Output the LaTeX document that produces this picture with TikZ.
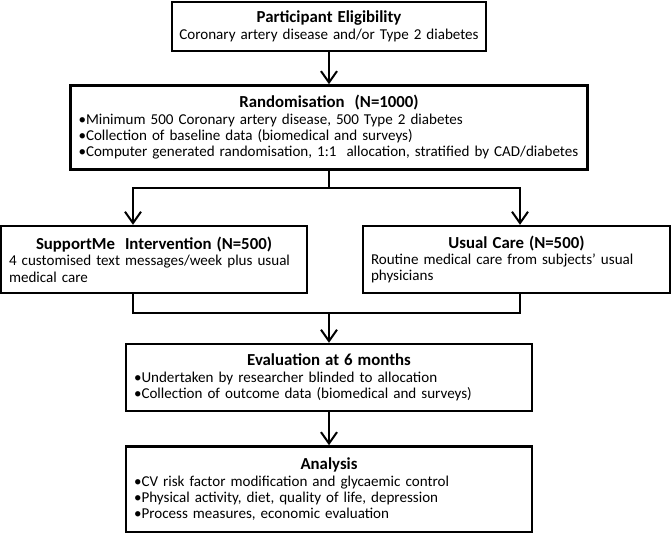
\documentclass[tikz,border=0pt]{standalone}
\usepackage{fontspec}
\setmainfont{Carlito}
\usetikzlibrary{positioning,arrows.meta}

\newcommand{\ttl}[1]{{\centering\fontsize{12.6}{15}\selectfont\bfseries #1\par}}

\begin{document}
\begin{tikzpicture}[x=0.75pt, y=-0.75pt, font=\fontsize{11.3}{12.3}\selectfont,
		box/.style 2 args={draw, line width=1.8pt, text width=#1, minimum height=#2, inner xsep=6pt, inner ysep=3pt, align=left},
		arr/.style={line width=1.5pt, -{Straight Barb[length=8.5pt, width=12pt]}},
		lnk/.style={line width=1.5pt}]
		\useasboundingbox (0,0) rectangle (671,532);
		\node[box={232pt}{36.75pt}, align=center, inner xsep=1.75pt] (elig) at (329,26.5) {\ttl{Participant\ Eligibility}Coronary artery disease and/or Type 2 diabetes};
		\node[box={375.75pt}{63pt}, below=24pt of elig] (rand) {\ttl{Randomisation\ \ (N=1000)}%
			•Minimum 500 Coronary artery disease, 500 Type 2 diabetes\\
			•Collection of baseline data (biomedical and surveys)\\
			•Computer generated randomisation, 1:1\ \ allocation, stratified by CAD/diabetes};
		\node[box={217.5pt}{50.25pt}] (left) at (154,259.5) {\ttl{SupportMe\ \ Intervention (N=500)}%
			4 customised text messages/week plus usual\\medical care};
		\node[box={218.25pt}{50.25pt}] (right) at (516.5,259.5) {\ttl{Usual Care (N=500)}%
			Routine medical care from subjects’ usual\\physicians};
		\node[box={292.5pt}{50.25pt}] (eval) at (329,377.5) {\ttl{Evaluation at 6 months}%
			•Undertaken by researcher blinded to allocation\\
			•Collection of outcome data (biomedical and surveys)};
		\node[box={292.5pt}{64.5pt}, below=24.75pt of eval] (anal) {\ttl{Analysis}%
			•CV risk factor modification and glycaemic control\\
			•Physical activity, diet, quality of life, depression\\
			•Process measures, economic evaluation};
		\coordinate (split) at (329,188);
		\coordinate (la) at (133,188);
		\coordinate (ra) at (520,188);
		\coordinate (join) at (329,313);
		\draw[arr] (elig) -- (rand);
		\draw[lnk] (rand) -- (split);
		\draw[arr] (split) -| (left.north -| la);
		\draw[arr] (split) -| (right.north -| ra);
		\draw[lnk] (left.south -| la) |- (join) -| (right.south -| ra);
		\draw[arr] (join) -- (eval);
		\draw[arr] (eval) -- (anal);
	\end{tikzpicture}
\end{document}
